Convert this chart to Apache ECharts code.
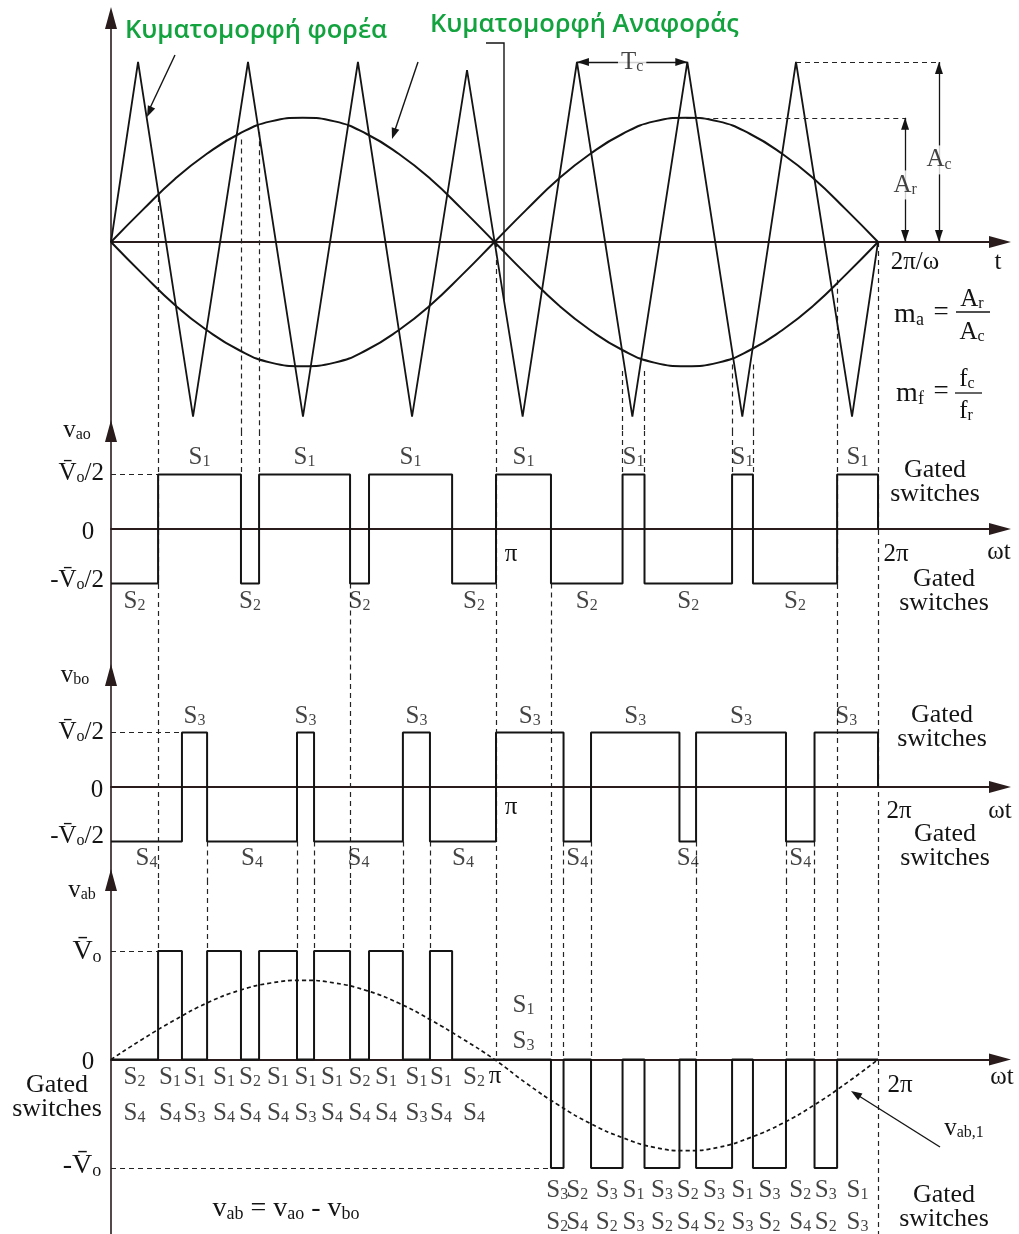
<!DOCTYPE html>
<html>
<head>
<meta charset="utf-8">
<script src="https://cdn.jsdelivr.net/npm/echarts@6/dist/echarts.min.js"></script>
<style>
  html, body { margin: 0; padding: 0; background: #fff; }
  #chart { width: 1019px; height: 1234px; }
</style>
</head>
<body>
<div id="chart"></div>
<script>
// Bipolar sinusoidal PWM of a single-phase full bridge.
// Horizontal unit: electrical angle in degrees (360 = 2π).

// Triangular carrier (m_f = 7): vertex angles and levels (A_c = 1)
const carrierX = [0, 12.7, 38.5, 64.3, 90.1, 115.9, 141.3, 167.1, 193.2, 218.7, 244.7, 270.5, 296.3, 321.5, 347.8, 360];
const carrierY = [0, 1, -0.97, 1, -0.97, 1, -0.97, 0.955, -0.97, 1, -0.97, 1, -0.97, 1, -0.97, 0];

// Reference waves of leg a and leg b (A_r ≈ 0.69 A_c), sampled every 15°
const refX = [0, 15, 30, 45, 60, 75, 90, 105, 120, 135, 150, 165, 180, 195, 210, 225, 240, 255, 270, 285, 300, 315, 330, 345, 360];
const refA = [0, 0.18, 0.35, 0.49, 0.6, 0.67, 0.69, 0.67, 0.6, 0.49, 0.35, 0.18, 0, -0.18, -0.35, -0.49, -0.6, -0.67, -0.69, -0.67, -0.6, -0.49, -0.35, -0.18, 0];
const refB = [0, -0.18, -0.35, -0.49, -0.6, -0.67, -0.69, -0.67, -0.6, -0.49, -0.35, -0.18, 0, 0.18, 0.35, 0.49, 0.6, 0.67, 0.69, 0.67, 0.6, 0.49, 0.35, 0.18, 0];

// Switching instants of the two legs (both start at -Vo/2)
const vaoEdges = [22.1, 61.0, 69.5, 112.2, 121.1, 160.1, 180.7, 206.5, 240.1, 250.4, 291.5, 301.3, 340.8, 360];
const vboEdges = [33.3, 45.1, 87.3, 95.3, 137.0, 149.7, 180.7, 212.4, 225.3, 266.8, 274.6, 316.8, 330.2, 360];

// Fundamental of v_ab (in units of Vo), sampled every 15°
const vab1Y = [0, 0.19, 0.365, 0.52, 0.635, 0.705, 0.73, 0.705, 0.635, 0.52, 0.365, 0.19, 0, -0.22, -0.42, -0.59, -0.72, -0.81, -0.84, -0.81, -0.72, -0.59, -0.42, -0.22, 0];

// Gated switches during each interval of v_ab (first and second row)
const vabRow1 = ['S2','S1','S1','S1','S2','S1','S1','S1','S2','S1','S1','S1','S2','S1','S3','S2','S3','S1','S3','S2','S3','S1','S3','S2','S3','S1'];
const vabRow2 = ['S4','S4','S3','S4','S4','S4','S3','S4','S4','S4','S3','S4','S4','S3','S2','S4','S2','S3','S2','S4','S2','S3','S2','S4','S2','S3'];

// Projection lines: [angle, from panel, from value, to panel, to value (null = bottom)]
const guideLines = [
  [22.1, 0, 0.25, 3, 1],
  [61.0, 0, 0.57, 1, 0.5],
  [69.5, 0, 0.61, 1, 0.5],
  [112.2, 1, -0.5, 3, 1],
  [180.7, 0, 0, 3, 0],
  [206.5, 1, -0.5, 3, 0],
  [240.1, 0, -0.717, 1, 0.5],
  [250.4, 0, -0.717, 1, 0.5],
  [291.5, 0, -0.68, 1, 0.5],
  [301.3, 0, -0.68, 1, 0.5],
  [340.8, 0, -0.21, 3, 0],
  [360, 0, 0, 3, null],
  [45.1, 2, -0.5, 3, 1],
  [87.3, 2, -0.5, 3, 1],
  [95.3, 2, -0.5, 3, 1],
  [137.0, 2, -0.5, 3, 1],
  [149.7, 2, -0.5, 3, 1],
  [212.4, 2, -0.5, 3, 0],
  [225.3, 2, -0.5, 3, 0],
  [274.6, 2, -0.5, 3, 0],
  [316.8, 2, -0.5, 3, 0],
  [330.2, 2, -0.5, 3, 0]
];
// Level markers: [panel, value, from angle, to angle]
const levelGuides = [[1, 0.5, 0, 22.1], [2, 0.5, 0, 33.3], [3, 1, 0, 22.1], [3, -1, 0, 206.5]];

// ---------------------------------------------------------------------------
const SERIF = '"Liberation Serif", "Times New Roman", serif';
const ink = '#141414';
const axisInk = '#2a1c1c';
const GREEN = '#12a33f';
const VB = 'V\u0304';
const X_MAX = 417.25;
const GRID = [
  { top: 18, height: 413, min: -1.05, max: 1.24444 },
  { top: 431, height: 244, min: -1.33945, max: 0.89908 },
  { top: 675, height: 205, min: -0.85321, max: 1.02752 },
  { top: 880, height: 354, min: -1.60829, max: 1.65438 }
];
const AXIS_ARROW = 'path://M0,0L6,22L-6,22Z';
const TIP_ARROW = 'path://M0,0L0,0M0,12L4,24L-4,24Z';

const zip = (xs, ys) => xs.map((x, i) => [x, ys[i]]);

function stepPoints(edges, start) {
  let lvl = start;
  const pts = [[0, lvl]];
  edges.forEach((e, i) => {
    pts.push([e, lvl]);
    lvl = i === edges.length - 1 ? 0 : -lvl;
    pts.push([e, lvl]);
  });
  return pts;
}
function levelAt(edges, start, x) {
  let lvl = start;
  for (const e of edges) { if (x > e) lvl = -lvl; else break; }
  return lvl;
}

const vaoPts = stepPoints(vaoEdges, -0.5);
const vboPts = stepPoints(vboEdges, -0.5);

// v_ab = v_ao - v_bo on every interval of the merged switching instants
const allEdges = Array.from(new Set([0].concat(vaoEdges, vboEdges))).sort((a, b) => a - b);
const vabIntervals = [];
for (let i = 0; i < allEdges.length - 1; i++) {
  const a = allEdges[i], b = allEdges[i + 1], m = (a + b) / 2;
  vabIntervals.push({ a, b, m, v: levelAt(vaoEdges, -0.5, m) - levelAt(vboEdges, -0.5, m) });
}
const vabPts = [[0, vabIntervals[0].v]];
vabIntervals.forEach((iv, i) => {
  vabPts.push([iv.b, iv.v]);
  const next = i < vabIntervals.length - 1 ? vabIntervals[i + 1].v : 0;
  vabPts.push([iv.b, next]);
});

function guideSegments(g) {
  const { min, max } = GRID[g];
  const out = [];
  guideLines.forEach(([x, g0, v0, g1, v1]) => {
    if (g < g0 || g > g1) return;
    const y0 = g === g0 ? v0 : max;
    const y1 = g === g1 ? (v1 === null ? min : v1) : min;
    out.push({ coords: [[x, y0], [x, y1]] });
  });
  levelGuides.filter(l => l[0] === g).forEach(([, v, x0, x1]) => out.push({ coords: [[x0, v], [x1, v]] }));
  return out;
}

// label rich styles (series labels)
const LR = {
  m: { fontFamily: SERIF, fontSize: 25, color: ink },
  s: { fontFamily: SERIF, fontSize: 16, color: ink, padding: [9, 0, 0, 0] },
  m36: { fontFamily: SERIF, fontSize: 25, color: ink, lineHeight: 36 },
  s36: { fontFamily: SERIF, fontSize: 16, color: ink, lineHeight: 36, padding: [9, 0, 0, 0] },
  m32: { fontFamily: SERIF, fontSize: 25, color: ink, lineHeight: 32 },
  s32: { fontFamily: SERIF, fontSize: 16, color: ink, lineHeight: 32, padding: [9, 0, 0, 0] }
};
const sw = (n, k = '') => `{m${k}|S}{s${k}|${n.slice(1)}}`;

function legLabels(edges, hiName, loName, dTop, dBot) {
  const pts = [0].concat(edges);
  const out = [];
  let lvl = -0.5;
  for (let i = 0; i < edges.length; i++) {
    const mid = (pts[i] + pts[i + 1]) / 2;
    out.push({
      value: [mid, lvl],
      text: sw(lvl > 0 ? hiName : loName),
      label: { position: lvl > 0 ? 'top' : 'bottom', distance: lvl > 0 ? dTop : dBot }
    });
    lvl = -lvl;
  }
  return out;
}

const vabLabels = vabIntervals.map((iv, i) => {
  if (i < 13) return { value: [iv.m, 0], text: sw(vabRow1[i], '36') + '\n' + sw(vabRow2[i], '36'), label: { position: 'bottom', distance: 0 } };
  if (i === 13) return { value: [iv.m, 0], text: sw(vabRow1[i], '36') + '\n' + sw(vabRow2[i], '36'), label: { position: 'top', distance: 0 } };
  return { value: [iv.m, -1], text: sw(vabRow1[i], '32') + '\n' + sw(vabRow2[i], '32'), label: { position: 'bottom', distance: 6 } };
});

function labelSeries(g, data, extra) {
  return Object.assign({
    type: 'scatter', xAxisIndex: g, yAxisIndex: g, z: 10, silent: true,
    symbolSize: 0.01, itemStyle: { color: 'rgba(0,0,0,0)' },
    label: { show: true, formatter: p => p.data.text, rich: LR, color: ink, textBorderWidth: 0 },
    data
  }, extra || {});
}
function guideSeries(g) {
  return {
    type: 'lines', coordinateSystem: 'cartesian2d', xAxisIndex: g, yAxisIndex: g, z: 1, silent: true,
    lineStyle: { color: '#242424', width: 1.2, type: [5, 4], opacity: 1 },
    data: guideSegments(g)
  };
}
function wave(g, data, extra) {
  return Object.assign({
    type: 'line', xAxisIndex: g, yAxisIndex: g, symbol: 'none', z: 3, silent: true,
    lineStyle: { color: ink, width: 2 }, data
  }, extra || {});
}

// graphic text helpers
const GR = {
  m: { fontFamily: SERIF, fontSize: 25, fill: ink },
  s: { fontFamily: SERIF, fontSize: 16, fill: ink, padding: [9, 0, 0, 0] },
  L: { fontFamily: SERIF, fontSize: 28, fill: ink },
  l: { fontFamily: SERIF, fontSize: 18, fill: ink, padding: [11, 0, 0, 0] }
};
function txt(x, y, text, opt) {
  return { type: 'text', x, y, z: 20, silent: true,
    style: Object.assign({ text, fill: ink, align: 'center', verticalAlign: 'middle', fontFamily: SERIF, fontSize: 25, rich: GR }, opt || {}) };
}
function seg(points, opt) {
  return { type: 'polyline', z: 20, silent: true, shape: { points }, style: Object.assign({ stroke: ink, lineWidth: 1.4, fill: null }, opt || {}) };
}
function head(tx, ty, fx, fy, len, half) {
  const dx = tx - fx, dy = ty - fy, d = Math.hypot(dx, dy), ux = dx / d, uy = dy / d;
  const bx = tx - ux * len, by = ty - uy * len;
  return { type: 'polygon', z: 20, silent: true,
    shape: { points: [[tx, ty], [bx - uy * half, by + ux * half], [bx + uy * half, by - ux * half]] },
    style: { fill: ink } };
}
const gated = (x, y) => txt(x, y, 'Gated\nswitches', { fontSize: 26, lineHeight: 24 });

const graphics = [
  // panel 1 captions
  txt(125, 31, 'Κυματομορφή φορέα', { align: 'left', fill: GREEN, fontFamily: '"Open Sans", sans-serif', fontWeight: 600, fontSize: 25.5 }),
  txt(430, 25, 'Κυματομορφή Αναφοράς', { align: 'left', fill: GREEN, fontFamily: '"Open Sans", sans-serif', fontWeight: 600, fontSize: 25.5 }),
  seg([[175, 55], [150, 108]]), head(147, 117, 175, 55, 11, 4),
  seg([[418, 62], [395, 130]]), head(392, 139, 418, 62, 11, 4),
  seg([[486, 43], [504, 43], [504, 300]]),
  txt(915, 262, '2π/ω'),
  txt(998, 262, 't'),
  txt(909, 315, '{L|m}{l|a}'), txt(941, 313, '=', { fontSize: 27 }),
  txt(972, 299, '{m|A}{s|r}'), seg([[956, 312], [990, 312]], { lineWidth: 1.3 }), txt(972, 332, '{m|A}{s|c}'),
  txt(910, 394, '{L|m}{l|f}'), txt(941, 392, '=', { fontSize: 27 }),
  txt(967, 379, '{m|f}{s|c}'), seg([[955, 393], [982, 393]], { lineWidth: 1.3 }), txt(966, 411, '{m|f}{s|r}'),

  // panel 2
  txt(77, 430, '{m|v}{s|ao}'),
  txt(104, 473, `{m|${VB}}{s|o}{m|/2}`, { align: 'right' }),
  txt(88, 532, '0'),
  txt(104, 580, `{m|-${VB}}{s|o}{m|/2}`, { align: 'right' }),
  txt(511, 554, 'π'),
  txt(896, 554, '2π'),
  txt(999, 552, 'ωt'),
  gated(935, 482), gated(944, 591),

  // panel 3
  txt(75, 675, '{m|v}{s|bo}'),
  txt(104, 732, `{m|${VB}}{s|o}{m|/2}`, { align: 'right' }),
  txt(97, 790, '0'),
  txt(104, 836, `{m|-${VB}}{s|o}{m|/2}`, { align: 'right' }),
  txt(511, 807, 'π'),
  txt(899, 811, '2π'),
  txt(1000, 811, 'ωt'),
  gated(942, 727), gated(945, 846),

  // panel 4
  txt(82, 890, '{m|v}{s|ab}'),
  txt(87, 952, `{L|${VB}}{l|o}`),
  txt(88, 1062, '0'),
  txt(82, 1166, `{L|-${VB}}{l|o}`),
  gated(57, 1097),
  txt(495, 1076, 'π'),
  txt(900, 1085, '2π'),
  txt(1002, 1077, 'ωt'),
  txt(286, 1209, '{L|v}{l|ab}{L| = v}{l|ao}{L| - v}{l|bo}'),
  txt(964, 1128, '{m|v}{s|ab,1}'),
  seg([[940, 1147], [859, 1096]]), head(851, 1091, 940, 1147, 11, 4),
  gated(944, 1207)
];

const option = {
  backgroundColor: '#fff',
  animation: false,
  grid: GRID.map(g => ({ left: 111, width: 889, top: g.top, height: g.height, outerBoundsMode: 'none' })),
  xAxis: GRID.map((g, i) => ({
    type: 'value', gridIndex: i, min: 0, max: X_MAX,
    axisLine: { show: true, onZero: true, symbol: ['none', AXIS_ARROW], symbolSize: [13, 22], lineStyle: { color: axisInk, width: 1.8 } },
    axisTick: { show: false }, axisLabel: { show: false }, splitLine: { show: false }
  })),
  yAxis: GRID.map((g, i) => ({
    type: 'value', gridIndex: i, min: g.min, max: g.max,
    axisLine: { show: true, onZero: true, symbol: ['none', AXIS_ARROW], symbolSize: [13, 22], lineStyle: { color: axisInk, width: 1.6 } },
    axisTick: { show: false }, axisLabel: { show: false }, splitLine: { show: false }
  })),
  series: [
    // panel 1: carrier and references
    wave(0, zip(carrierX, carrierY), {
      lineStyle: { color: ink, width: 1.8 },
      markLine: {
        silent: true, animation: false, symbol: [TIP_ARROW, TIP_ARROW], symbolSize: [8, 24],
        label: { show: false }, lineStyle: { type: 'solid', color: ink, width: 1.3 },
        data: [
          [{ coord: [218.7, 1] }, { coord: [270.5, 1] }],
          [{ coord: [372.7, 0] }, { coord: [372.7, 0.69] }],
          [{ coord: [388.6, 0] }, { coord: [388.6, 1] }]
        ]
      }
    }),
    wave(0, zip(refX, refA), {
      smooth: true, lineStyle: { color: ink, width: 2 },
      markLine: {
        silent: true, animation: false, symbol: ['none', 'none'],
        label: { show: false }, lineStyle: { type: [5, 4], color: '#242424', width: 1.2 },
        data: [
          [{ coord: [270, 0.69] }, { coord: [372.7, 0.69] }],
          [{ coord: [321.5, 1] }, { coord: [388.6, 1] }]
        ]
      }
    }),
    wave(0, zip(refX, refB), { smooth: true, lineStyle: { color: ink, width: 2 } }),
    guideSeries(0),
    labelSeries(0, [
      { value: [244.6, 1], text: '{m|T}{s|c}', label: { position: 'inside', backgroundColor: '#fff', padding: [0, 3] } },
      { value: [372.7, 0.317], text: '{m|A}{s|r}', label: { position: 'inside', backgroundColor: '#fff', padding: [2, 1] } },
      { value: [388.6, 0.456], text: '{m|A}{s|c}', label: { position: 'inside', backgroundColor: '#fff', padding: [2, 1] } }
    ]),

    // panel 2: v_ao
    guideSeries(1),
    wave(1, vaoPts),
    labelSeries(1, legLabels(vaoEdges, 'S1', 'S2', 5, 5)),

    // panel 3: v_bo
    guideSeries(2),
    wave(2, vboPts),
    labelSeries(2, legLabels(vboEdges, 'S3', 'S4', 4, 4)),

    // panel 4: v_ab and its fundamental
    guideSeries(3),
    wave(3, vabPts),
    wave(3, zip(refX, vab1Y), { smooth: true, z: 2, lineStyle: { color: ink, width: 1.7, type: [4, 3] } }),
    labelSeries(3, vabLabels)
  ],
  graphic: { elements: graphics }
};

const chart = echarts.init(document.getElementById('chart'), null, { renderer: 'canvas' });
chart.setOption(option);
</script>
</body>
</html>
